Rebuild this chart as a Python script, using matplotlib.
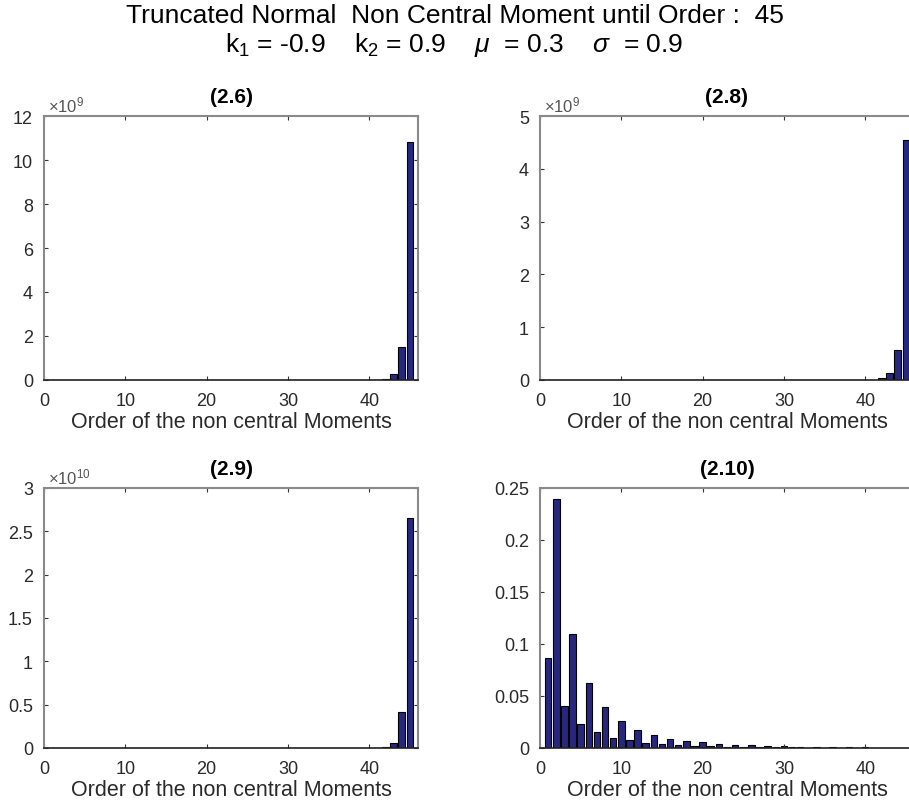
import matplotlib
matplotlib.use("Agg")
import matplotlib.pyplot as plt
from matplotlib.ticker import FuncFormatter, MultipleLocator
import numpy as np

plt.rcParams['font.family'] = ['Liberation Sans', 'DejaVu Sans']
plt.rcParams['mathtext.fontset'] = 'custom'
plt.rcParams['mathtext.rm'] = 'Liberation Sans'
plt.rcParams['mathtext.it'] = 'Liberation Sans:italic'

orders = list(range(1, 46))

# (2.6) values (non-zero only near the end)
vals_26 = [0.0] * 39 + [0.002e9, 0.01e9, 0.06e9, 0.27e9, 1.52e9, 10.8e9]
# (2.8)
vals_28 = [0.0] * 39 + [0.001e9, 0.006e9, 0.03e9, 0.127e9, 0.575e9, 4.54e9]
# (2.9)
vals_29 = [0.0] * 39 + [0.0002e10, 0.002e10, 0.01e10, 0.055e10, 0.41e10, 2.65e10]
# (2.10)
vals_210 = [0.087, 0.239, 0.0405, 0.110, 0.023, 0.0627, 0.0152, 0.039, 0.0095, 0.0256,
            0.0073, 0.0174, 0.005, 0.0127, 0.0038, 0.0089, 0.0028, 0.007, 0.002, 0.0054,
            0.0016, 0.0041, 0.0012, 0.0032, 0.001, 0.0025, 0.0008, 0.002, 0.0006, 0.0016,
            0.0005, 0.0013, 0.0004, 0.001, 0.0003, 0.0008, 0.0003, 0.0007, 0.0002, 0.0005,
            0.0002, 0.0004, 0.0002, 0.0003, 0.0001]

titles = ['(2.6)', '(2.8)', '(2.9)', '(2.10)']
ylims = [12e9, 5e9, 3e10, 0.25]
yticks_step = [2e9, 1e9, 0.5e10, 0.05]
exponents = [9, 9, 10, None]
series = [vals_26, vals_28, vals_29, vals_210]
xlabel = 'Order of the non central Moments'

fig = plt.figure(figsize=(9.09, 8.03), dpi=100)
W, H = 909, 803
ax_w = 374
positions = [
    (44, 117, 381),
    (540, 117, 381),
    (44, 489, 749),
    (540, 489, 749),
]

bar_color = '#27277f'
txt_color = '#2a2a2a'
for i, (x0, ytop, ybot) in enumerate(positions):
    ax = fig.add_axes([x0 / W, 1 - ybot / H, ax_w / W, (ybot - ytop) / H])
    ax.bar(orders, series[i], width=0.8, color=bar_color, edgecolor='black', linewidth=0.8)
    ax.set_xlim(0, 46)
    ax.set_ylim(0, ylims[i])
    ax.yaxis.set_major_locator(MultipleLocator(yticks_step[i]))
    ax.xaxis.set_major_locator(MultipleLocator(10))
    e = exponents[i]
    if e is not None:
        scale = 10.0 ** e
        ax.yaxis.set_major_formatter(FuncFormatter(lambda v, p, s=scale: '%g' % round(v / s, 6)))
        ax.text(0.012, 1.005, r'$\times$10$^{%d}$' % e, transform=ax.transAxes,
                ha='left', va='bottom', fontsize=12, color='#555555')
    else:
        ax.yaxis.set_major_formatter(FuncFormatter(lambda v, p: '%g' % round(v, 6)))
    ax.tick_params(direction='in', length=3, width=0.8, top=True, right=True,
                   labelsize=13, colors='#333333', labelcolor=txt_color)
    ax.tick_params(axis='x', pad=9)
    ax.tick_params(axis='y', pad=8)
    for s in ['top', 'left', 'right']:
        ax.spines[s].set_color('#8a8a8a')
        ax.spines[s].set_linewidth(1.5)
    ax.spines['bottom'].set_color('#222222')
    ax.spines['bottom'].set_linewidth(1.2)
    ax.set_title(titles[i], fontsize=15, fontweight='bold', pad=10)
    ax.set_xlabel(xlabel, fontsize=15.5, color=txt_color, labelpad=1)

fig.text(0.5, 1 - 16 / H, 'Truncated Normal  Non Central Moment until Order :  45',
         ha='center', va='center', fontsize=19)
fig.text(0.5, 1 - 45 / H,
         r'k$_1$ = -0.9    k$_2$ = 0.9    $\mathit{\mu}$  = 0.3    $\mathit{\sigma}$  = 0.9',
         ha='center', va='center', fontsize=19)

fig.savefig('out.png', dpi=100)
